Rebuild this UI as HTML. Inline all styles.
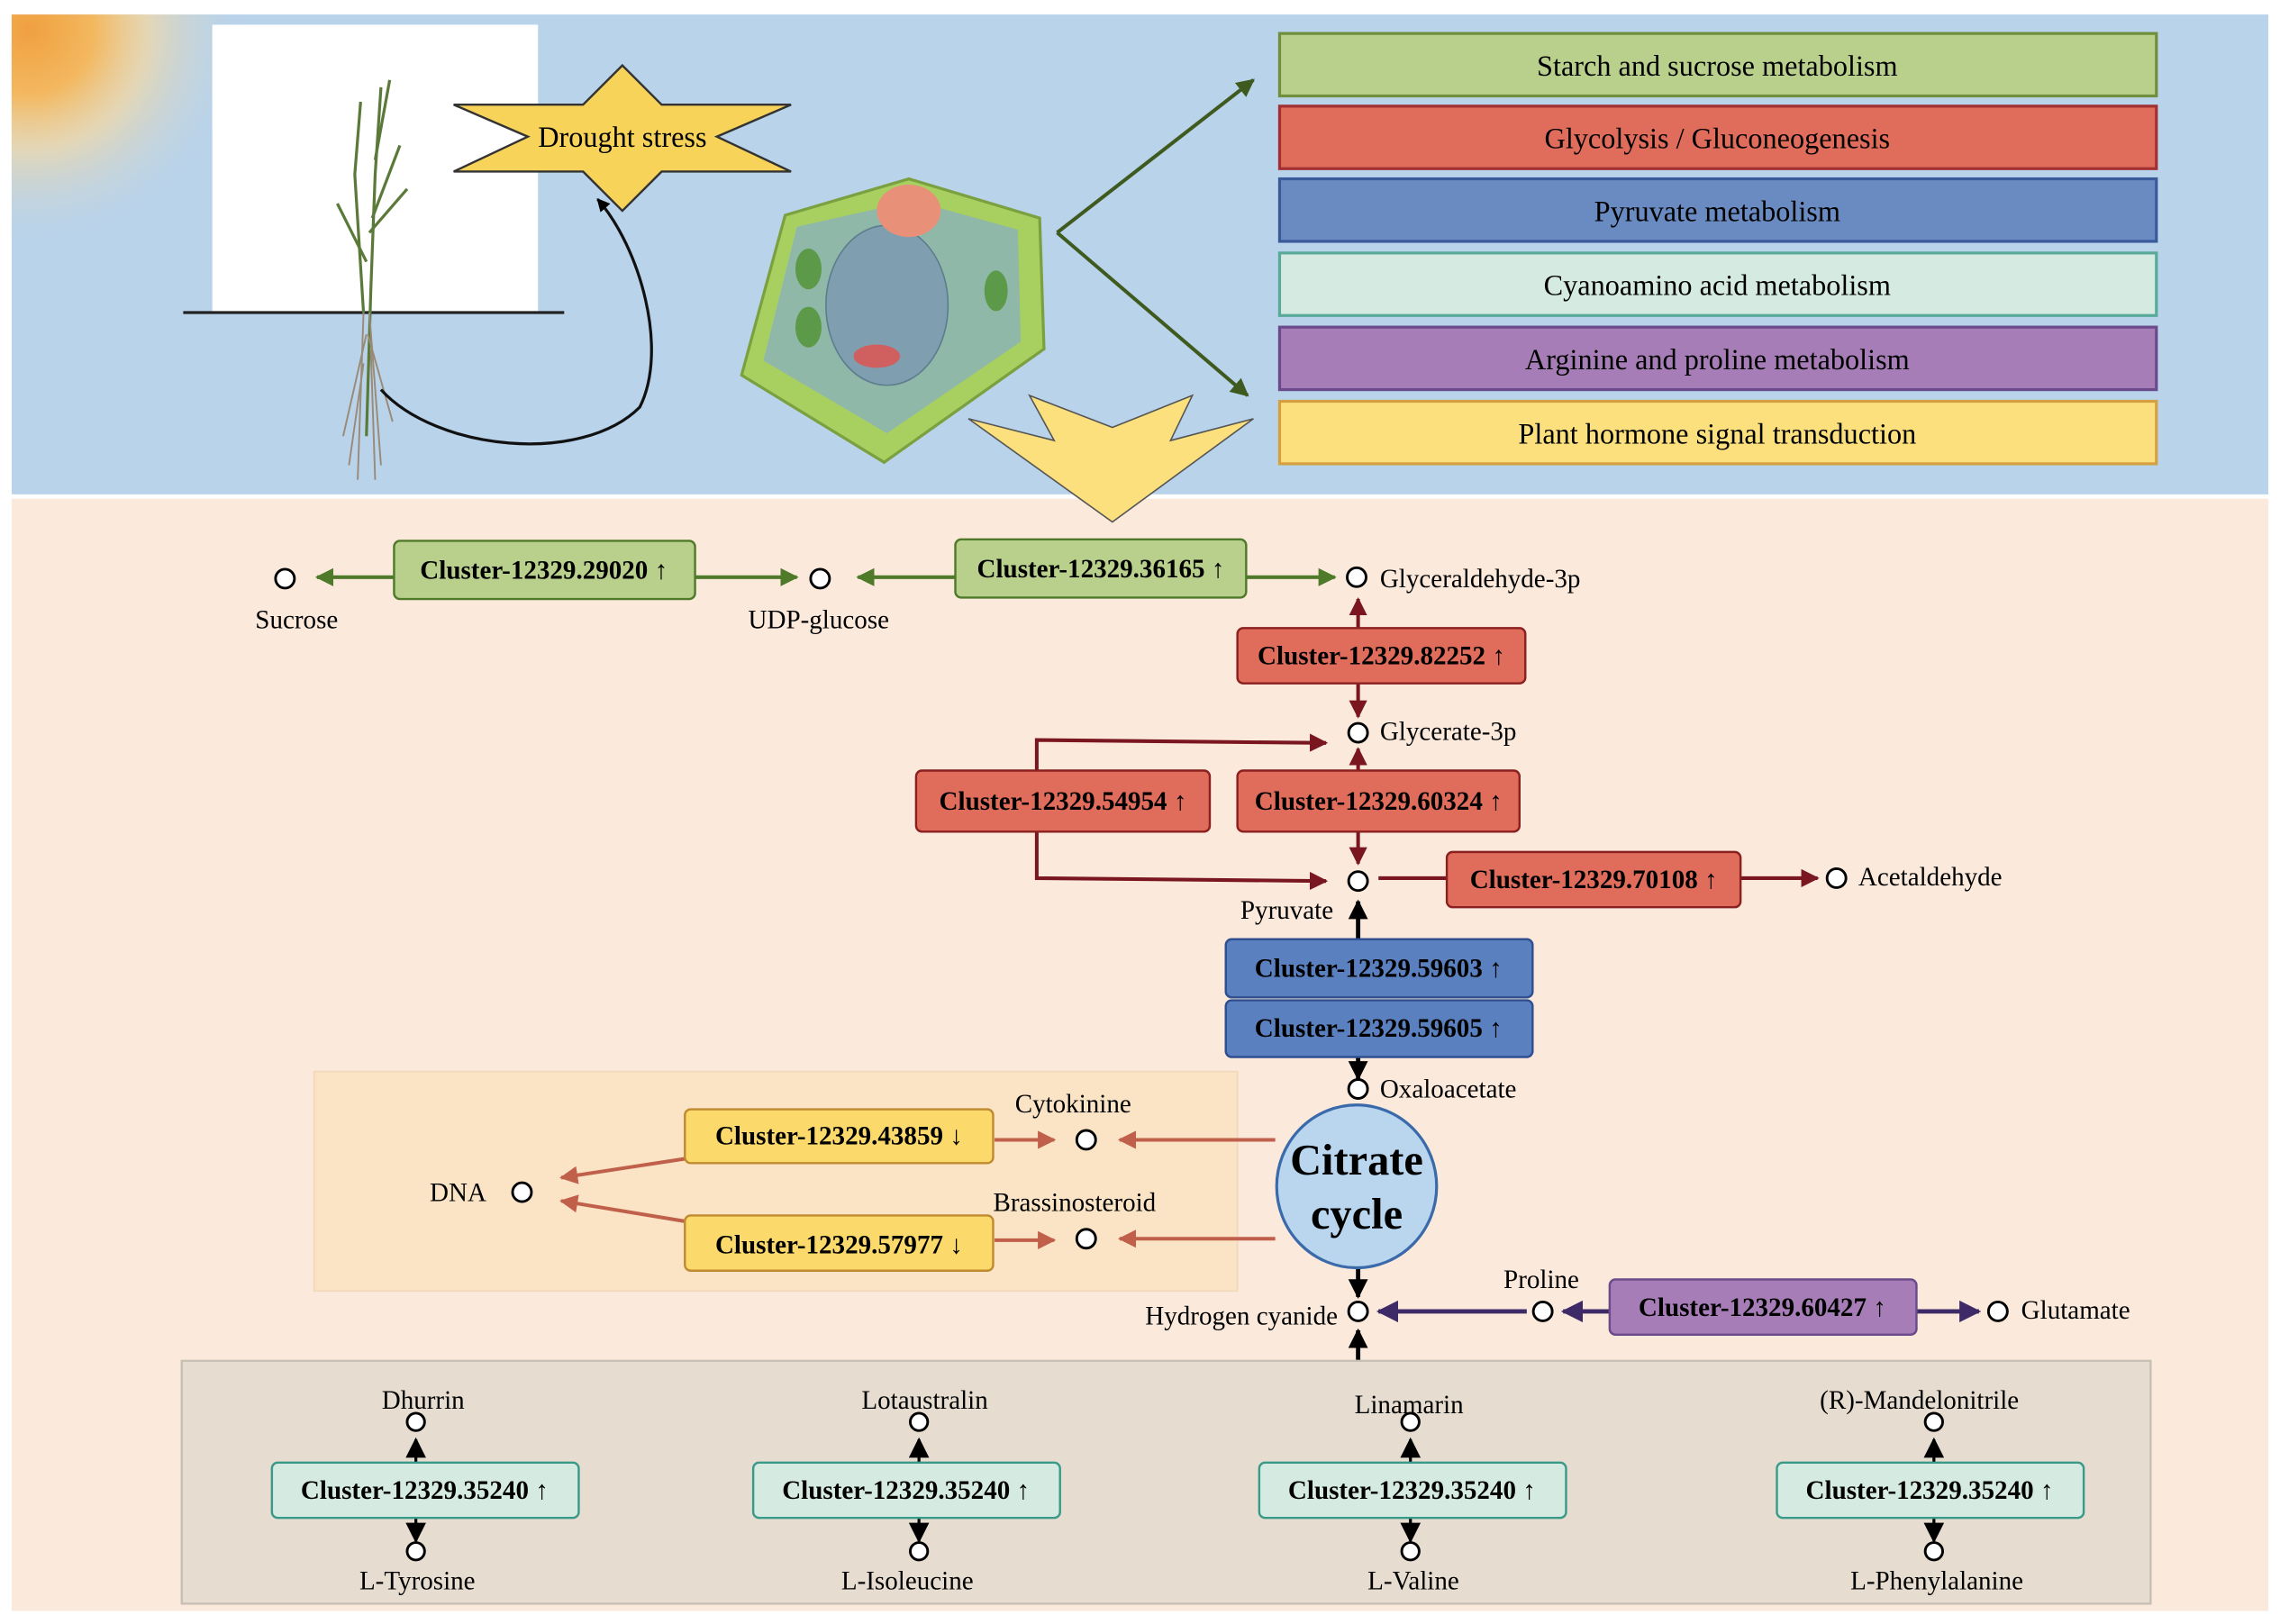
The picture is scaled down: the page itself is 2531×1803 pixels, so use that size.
<!DOCTYPE html>
<html><head><meta charset="utf-8"><style>
html,body{margin:0;padding:0;background:#fff;}
svg{display:block;font-family:"Liberation Serif","DejaVu Serif",serif;}
svg text{font-family:"Liberation Serif","DejaVu Serif",serif;}
</style></head><body>
<svg width="2531" height="1803" viewBox="0 0 1568 1117" preserveAspectRatio="none" xmlns="http://www.w3.org/2000/svg" font-family="Liberation Serif, serif">
<defs>
<radialGradient id="sun" cx="0.5" cy="0.5" r="0.5">
<stop offset="0" stop-color="#f0a040"/><stop offset="0.3" stop-color="#f3b860"/><stop offset="0.55" stop-color="#f6d8a0" stop-opacity="0.7"/><stop offset="1" stop-color="#b9d3ea" stop-opacity="0"/></radialGradient>
<marker id="ag" viewBox="0 0 10 10" refX="9" refY="5" markerWidth="5" markerHeight="5" orient="auto"><path d="M0,0L10,5L0,10z" fill="#4e7a2a"/></marker>
<marker id="adg" viewBox="0 0 10 10" refX="9" refY="5" markerWidth="5" markerHeight="5" orient="auto"><path d="M0,0L10,5L0,10z" fill="#3f5a1e"/></marker>
<marker id="ar" viewBox="0 0 10 10" refX="9" refY="5" markerWidth="5" markerHeight="5" orient="auto"><path d="M0,0L10,5L0,10z" fill="#7a1620"/></marker>
<marker id="ao" viewBox="0 0 10 10" refX="9" refY="5" markerWidth="5" markerHeight="5" orient="auto"><path d="M0,0L10,5L0,10z" fill="#c0604a"/></marker>
<marker id="ap" viewBox="0 0 10 10" refX="9" refY="5" markerWidth="5" markerHeight="5" orient="auto"><path d="M0,0L10,5L0,10z" fill="#3e2a66"/></marker>
<marker id="ak" viewBox="0 0 10 10" refX="9" refY="5" markerWidth="4.5" markerHeight="4.5" orient="auto"><path d="M0,0L10,5L0,10z" fill="#000"/></marker>
<marker id="akt" viewBox="0 0 10 10" refX="9" refY="5" markerWidth="7" markerHeight="7" orient="auto"><path d="M0,0L10,5L0,10z" fill="#000"/></marker>
<clipPath id="top"><rect x="8" y="10" width="1552" height="330"/></clipPath>
</defs>
<rect x="0" y="0" width="1568" height="1117" fill="#fff"/>
<rect x="8" y="10" width="1552" height="330" fill="#b9d3ea"/>
<rect x="8" y="343" width="1552" height="765" fill="#fbe9dc"/>
<g clip-path="url(#top)"><circle cx="20" cy="20" r="150" fill="url(#sun)"/></g>
<!-- plant -->
<rect x="146" y="17" width="224" height="198" fill="#fff"/>
<line x1="126" y1="215" x2="388" y2="215" stroke="#222" stroke-width="2"/>
<g stroke="#5b7a3a" stroke-width="2" fill="none">
<path d="M252,300 L255,200 L258,120 L262,60"/><path d="M250,215 L244,120 L248,70"/><path d="M256,150 L275,100"/><path d="M252,180 L232,140"/><path d="M258,110 L268,55"/><path d="M254,160 L280,130"/>
</g>
<g stroke="#9a8a78" stroke-width="1.2" fill="none">
<path d="M250,215 L246,330"/><path d="M254,215 L262,320"/><path d="M252,230 L236,300"/><path d="M253,230 L270,290"/><path d="M250,250 L240,320"/><path d="M255,240 L258,330"/>
</g>
<!-- drought star -->
<polygon points="428,45 455,72 544,72 493,94 544,118 455,118 428,145 401,118 312,118 363,94 312,72 401,72" fill="#f7d35a" stroke="#333" stroke-width="1.5"/>
<text x="428" y="101" font-size="20" text-anchor="middle">Drought stress</text>
<path d="M262,268 C300,310 400,320 440,280 C460,240 440,170 411,137" fill="none" stroke="#111" stroke-width="2" marker-end="url(#ak)"/>
<!-- cell -->
<polygon points="625,123 715,150 718,240 608,318 510,258 540,148" fill="#a8d060" stroke="#7aa040" stroke-width="2"/>
<polygon points="628,138 700,158 702,235 610,298 525,248 548,156" fill="#8fb8a8"/>
<ellipse cx="610" cy="210" rx="42" ry="55" fill="#7f9fb0" stroke="#5d7d8d"/>
<ellipse cx="625" cy="145" rx="22" ry="18" fill="#e89078"/>
<ellipse cx="556" cy="185" rx="9" ry="14" fill="#5c9a4a"/>
<ellipse cx="556" cy="225" rx="9" ry="14" fill="#5c9a4a"/>
<ellipse cx="685" cy="200" rx="8" ry="14" fill="#5c9a4a"/>
<ellipse cx="603" cy="245" rx="16" ry="8" fill="#d06060"/>
<!-- green arrows -->
<path d="M727,160 L862,55" stroke="#3f5a1e" stroke-width="2.5" fill="none" marker-end="url(#adg)"/>
<path d="M727,160 L858,272" stroke="#3f5a1e" stroke-width="2.5" fill="none" marker-end="url(#adg)"/>
<!-- yellow arrow -->
<polygon points="666,288 725,303 708,272 765,294 820,272 805,303 862,288 765,359" fill="#fbe07d" stroke="#555" stroke-width="1"/>
<!-- pathway boxes -->
<g font-size="20" text-anchor="middle">
<rect x="880" y="23" width="603" height="43" fill="#b9d08d" stroke="#6f8f3c" stroke-width="2"/><text x="1181" y="52">Starch and sucrose metabolism</text>
<rect x="880" y="73" width="603" height="43" fill="#e06c5c" stroke="#a33030" stroke-width="2"/><text x="1181" y="102">Glycolysis / Gluconeogenesis</text>
<rect x="880" y="123" width="603" height="43" fill="#6a8bc2" stroke="#3a5a9a" stroke-width="2"/><text x="1181" y="152">Pyruvate metabolism</text>
<rect x="880" y="174" width="603" height="43" fill="#d5ebe1" stroke="#5aaa9a" stroke-width="2"/><text x="1181" y="203">Cyanoamino acid metabolism</text>
<rect x="880" y="225" width="603" height="43" fill="#a67db7" stroke="#6a4a8a" stroke-width="2"/><text x="1181" y="254">Arginine and proline metabolism</text>
<rect x="880" y="276" width="603" height="43" fill="#fbe07d" stroke="#d4a040" stroke-width="2"/><text x="1181" y="305">Plant hormone signal transduction</text>
</g>
<!-- lower lines -->
<g fill="none" stroke-width="2.5">
<path d="M271,397 L218,397" stroke="#4e7a2a" marker-end="url(#ag)"/>
<path d="M478,397 L548,397" stroke="#4e7a2a" marker-end="url(#ag)"/>
<path d="M657,397 L590,397" stroke="#4e7a2a" marker-end="url(#ag)"/>
<path d="M857,397 L918,397" stroke="#4e7a2a" marker-end="url(#ag)"/>
<path d="M934,432 L934,412" stroke="#7a1620" marker-end="url(#ar)"/>
<path d="M934,470 L934,493" stroke="#7a1620" marker-end="url(#ar)"/>
<path d="M934,530 L934,515" stroke="#7a1620" marker-end="url(#ar)"/>
<path d="M934,572 L934,594" stroke="#7a1620" marker-end="url(#ar)"/>
<path d="M713,530 L713,509 L912,511" stroke="#7a1620" marker-end="url(#ar)"/>
<path d="M713,572 L713,604 L912,606" stroke="#7a1620" marker-end="url(#ar)"/>
<path d="M948,604 L995,604" stroke="#7a1620"/>
<path d="M1197,604 L1250,604" stroke="#7a1620" marker-end="url(#ar)"/>
<path d="M934,648 L934,620" stroke="#000" stroke-width="3" marker-end="url(#ak)"/>
<path d="M934,727 L934,742" stroke="#000" stroke-width="3" marker-end="url(#ak)"/>
</g>
<!-- orange bg -->
<rect x="216" y="737" width="635" height="151" fill="#fbe4c6" stroke="#f0d8b8"/>
<g fill="none" stroke-width="2.5">
<path d="M877,784 L770,784" stroke="#c0604a" marker-end="url(#ao)"/>
<path d="M877,852 L770,852" stroke="#c0604a" marker-end="url(#ao)"/>
<path d="M684,784 L725,784" stroke="#c0604a" marker-end="url(#ao)"/>
<path d="M684,853 L725,853" stroke="#c0604a" marker-end="url(#ao)"/>
<path d="M471,797 L386,810" stroke="#c0604a" marker-end="url(#ao)"/>
<path d="M471,840 L386,826" stroke="#c0604a" marker-end="url(#ao)"/>
<path d="M934,872 L934,892" stroke="#000" stroke-width="3" marker-end="url(#ak)"/>
<path d="M934,936 L934,915" stroke="#000" stroke-width="3" marker-end="url(#ak)"/>
<path d="M1050,902 L948,902" stroke="#3e2a66" stroke-width="3" marker-end="url(#ap)"/>
<path d="M1107,902 L1075,902" stroke="#3e2a66" stroke-width="3" marker-end="url(#ap)"/>
<path d="M1318,902 L1361,902" stroke="#3e2a66" stroke-width="3" marker-end="url(#ap)"/>
</g>
<!-- boxes lower -->
<g font-size="18" font-weight="bold" text-anchor="middle">
<rect x="271" y="372" width="207" height="40" rx="4" fill="#b9d08d" stroke="#4e7a2a" stroke-width="1.5"/><text x="374" y="398">Cluster-12329.29020 ↑</text>
<rect x="657" y="371" width="200" height="40" rx="4" fill="#b9d08d" stroke="#4e7a2a" stroke-width="1.5"/><text x="757" y="397">Cluster-12329.36165 ↑</text>
<rect x="851" y="432" width="198" height="38" rx="4" fill="#e06c5c" stroke="#8a2020" stroke-width="1.5"/><text x="950" y="457">Cluster-12329.82252 ↑</text>
<rect x="630" y="530" width="202" height="42" rx="4" fill="#e06c5c" stroke="#8a2020" stroke-width="1.5"/><text x="731" y="557">Cluster-12329.54954 ↑</text>
<rect x="851" y="530" width="194" height="42" rx="4" fill="#e06c5c" stroke="#8a2020" stroke-width="1.5"/><text x="948" y="557">Cluster-12329.60324 ↑</text>
<rect x="995" y="586" width="202" height="38" rx="4" fill="#e06c5c" stroke="#8a2020" stroke-width="1.5"/><text x="1096" y="611">Cluster-12329.70108 ↑</text>
<rect x="843" y="646" width="211" height="40" rx="4" fill="#5a80c0" stroke="#2f4f8f" stroke-width="1.5"/><text x="948" y="672">Cluster-12329.59603 ↑</text>
<rect x="843" y="688" width="211" height="39" rx="4" fill="#5a80c0" stroke="#2f4f8f" stroke-width="1.5"/><text x="948" y="713">Cluster-12329.59605 ↑</text>
<rect x="471" y="763" width="212" height="37" rx="4" fill="#fbd96a" stroke="#c08a30" stroke-width="1.5"/><text x="577" y="787">Cluster-12329.43859 ↓</text>
<rect x="471" y="836" width="212" height="38" rx="4" fill="#fbd96a" stroke="#c08a30" stroke-width="1.5"/><text x="577" y="862">Cluster-12329.57977 ↓</text>
<rect x="1107" y="880" width="211" height="38" rx="4" fill="#a67db7" stroke="#6a4a8a" stroke-width="1.5"/><text x="1212" y="905">Cluster-12329.60427 ↑</text>
</g>
<!-- citrate -->
<ellipse cx="933" cy="816" rx="55" ry="56" fill="#b9d6ee" stroke="#3a6aaa" stroke-width="2"/>
<text x="933" y="808" font-size="30" font-weight="bold" text-anchor="middle">Citrate</text>
<text x="933" y="845" font-size="30" font-weight="bold" text-anchor="middle">cycle</text>
<!-- circles -->
<g fill="#fff" stroke="#000" stroke-width="1.8">
<circle cx="196" cy="398" r="6.5"/><circle cx="564" cy="398" r="6.5"/><circle cx="933" cy="397" r="6.5"/>
<circle cx="934" cy="504" r="6.5"/><circle cx="934" cy="606" r="6.5"/><circle cx="1263" cy="604" r="6.5"/>
<circle cx="934" cy="749" r="6.5"/><circle cx="747" cy="784" r="6.5"/><circle cx="747" cy="852" r="6.5"/>
<circle cx="359" cy="820" r="6.5"/><circle cx="934" cy="902" r="6.5"/><circle cx="1061" cy="902" r="6.5"/><circle cx="1374" cy="902" r="6.5"/>
</g>
<g font-size="18">
<text x="204" y="432" text-anchor="middle">Sucrose</text>
<text x="563" y="432" text-anchor="middle">UDP-glucose</text>
<text x="949" y="404">Glyceraldehyde-3p</text>
<text x="949" y="509">Glycerate-3p</text>
<text x="885" y="632" text-anchor="middle">Pyruvate</text>
<text x="1278" y="609">Acetaldehyde</text>
<text x="949" y="755">Oxaloacetate</text>
<text x="738" y="765" text-anchor="middle">Cytokinine</text>
<text x="739" y="833" text-anchor="middle">Brassinosteroid</text>
<text x="315" y="826" text-anchor="middle">DNA</text>
<text x="920" y="911" text-anchor="end">Hydrogen cyanide</text>
<text x="1060" y="886" text-anchor="middle">Proline</text>
<text x="1390" y="907">Glutamate</text>
</g>
<!-- gray box -->
<rect x="125" y="936" width="1354" height="167" fill="#e6ddd0" stroke="#c8c0b4" stroke-width="1.5"/>
<g>
<g transform="translate(286,0)">
<path d="M0,1006 L0,990" stroke="#000" stroke-width="2" marker-end="url(#akt)"/><path d="M0,1044 L0,1060" stroke="#000" stroke-width="2" marker-end="url(#akt)"/>
<circle cx="0" cy="978" r="6" fill="#fff" stroke="#000" stroke-width="1.8"/><circle cx="0" cy="1067" r="6" fill="#fff" stroke="#000" stroke-width="1.8"/>
</g>
<g transform="translate(632,0)">
<path d="M0,1006 L0,990" stroke="#000" stroke-width="2" marker-end="url(#akt)"/><path d="M0,1044 L0,1060" stroke="#000" stroke-width="2" marker-end="url(#akt)"/>
<circle cx="0" cy="978" r="6" fill="#fff" stroke="#000" stroke-width="1.8"/><circle cx="0" cy="1067" r="6" fill="#fff" stroke="#000" stroke-width="1.8"/>
</g>
<g transform="translate(970,0)">
<path d="M0,1006 L0,990" stroke="#000" stroke-width="2" marker-end="url(#akt)"/><path d="M0,1044 L0,1060" stroke="#000" stroke-width="2" marker-end="url(#akt)"/>
<circle cx="0" cy="978" r="6" fill="#fff" stroke="#000" stroke-width="1.8"/><circle cx="0" cy="1067" r="6" fill="#fff" stroke="#000" stroke-width="1.8"/>
</g>
<g transform="translate(1330,0)">
<path d="M0,1006 L0,990" stroke="#000" stroke-width="2" marker-end="url(#akt)"/><path d="M0,1044 L0,1060" stroke="#000" stroke-width="2" marker-end="url(#akt)"/>
<circle cx="0" cy="978" r="6" fill="#fff" stroke="#000" stroke-width="1.8"/><circle cx="0" cy="1067" r="6" fill="#fff" stroke="#000" stroke-width="1.8"/>
</g>
</g>
<g font-size="18" font-weight="bold" text-anchor="middle">
<rect x="187" y="1006" width="211" height="38" rx="4" fill="#d5ebe1" stroke="#3a9a8a" stroke-width="1.5"/><text x="292" y="1031">Cluster-12329.35240 ↑</text>
<rect x="518" y="1006" width="211" height="38" rx="4" fill="#d5ebe1" stroke="#3a9a8a" stroke-width="1.5"/><text x="623" y="1031">Cluster-12329.35240 ↑</text>
<rect x="866" y="1006" width="211" height="38" rx="4" fill="#d5ebe1" stroke="#3a9a8a" stroke-width="1.5"/><text x="971" y="1031">Cluster-12329.35240 ↑</text>
<rect x="1222" y="1006" width="211" height="38" rx="4" fill="#d5ebe1" stroke="#3a9a8a" stroke-width="1.5"/><text x="1327" y="1031">Cluster-12329.35240 ↑</text>
</g>
<g font-size="18" text-anchor="middle">
<text x="291" y="969">Dhurrin</text><text x="287" y="1093">L-Tyrosine</text>
<text x="636" y="969">Lotaustralin</text><text x="624" y="1093">L-Isoleucine</text>
<text x="969" y="972">Linamarin</text><text x="972" y="1093">L-Valine</text>
<text x="1320" y="969">(R)-Mandelonitrile</text><text x="1332" y="1093">L-Phenylalanine</text>
</g>
</svg>
</body></html>
